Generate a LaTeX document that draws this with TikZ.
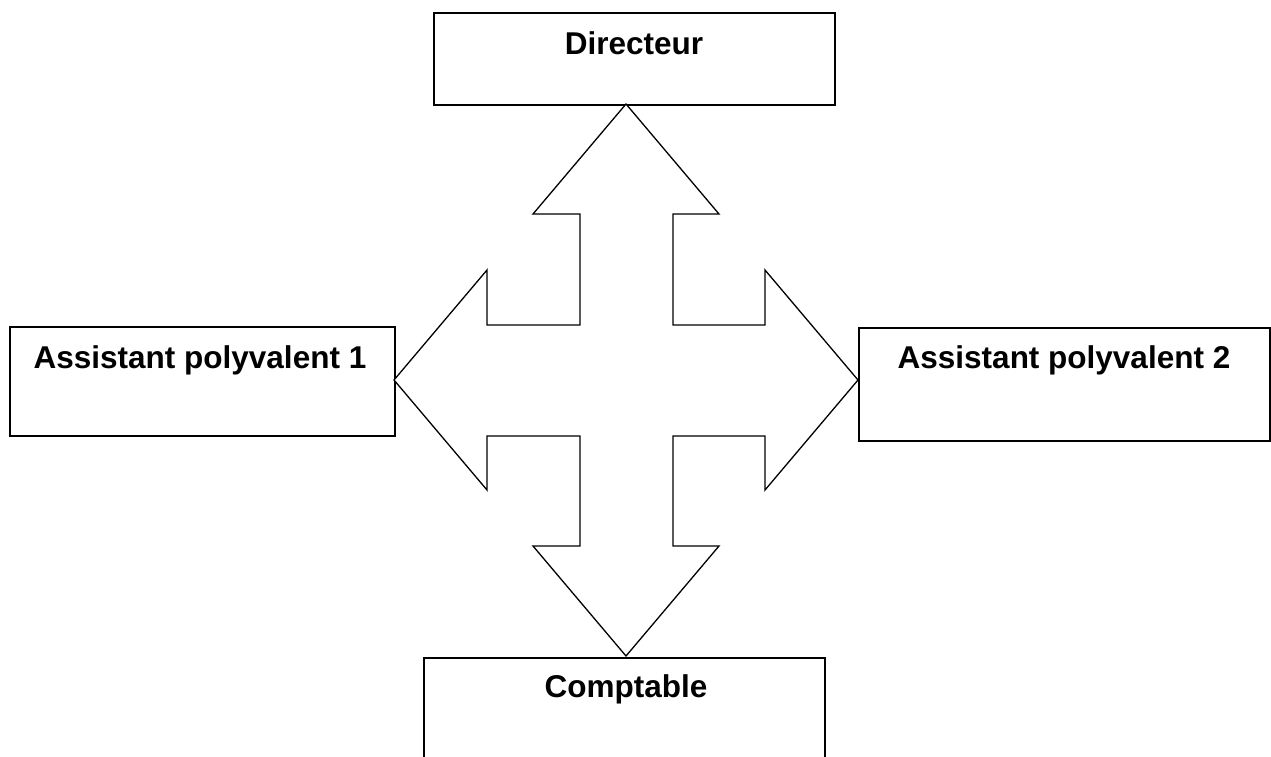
\documentclass[tikz,border=0pt]{standalone}
\usepackage{fontspec}
\setmainfont{Liberation Sans}
\begin{document}
\begin{tikzpicture}[x=1pt,y=-1pt,
  box/.style={draw,line width=1.6pt,rectangle,inner sep=0pt,anchor=north west},
  lbl/.style={font=\fontsize{31.5}{36}\selectfont\bfseries,inner sep=0pt,anchor=base},
  bigarrow/.style={draw,line width=1.3pt,line join=miter,fill=white}]
\useasboundingbox (0,0) rectangle (1271,756);
% boxes
\node[box,minimum width=401pt,minimum height=92pt] (dir) at (433,12) {};
\node[box,minimum width=385pt,minimum height=109pt] (ap1) at (9,326) {};
\node[box,minimum width=411pt,minimum height=113pt] (ap2) at (858,327) {};
\node[box,minimum width=401pt,minimum height=110pt] (cpt) at (423,657) {};
% labels
\node[lbl] (tdir) at (634,54) {Directeur};
\node[lbl] (tap1) at (200,368) {Assistant polyvalent 1};
\node[lbl] (tap2) at (1064,368) {Assistant polyvalent 2};
\node[lbl] (tcpt) at (626,697) {Comptable};
% four-way arrow
\draw[bigarrow] (626,104) -- (719,214) -- (673,214) -- (673,325) -- (765,325) -- (765,270)
  -- (858,380) -- (765,490) -- (765,436) -- (673,436) -- (673,546) -- (719,546)
  -- (626,656) -- (533,546) -- (580,546) -- (580,436) -- (487,436) -- (487,490)
  -- (394,380) -- (487,270) -- (487,325) -- (580,325) -- (580,214) -- (533,214) -- cycle;
\end{tikzpicture}
\end{document}
